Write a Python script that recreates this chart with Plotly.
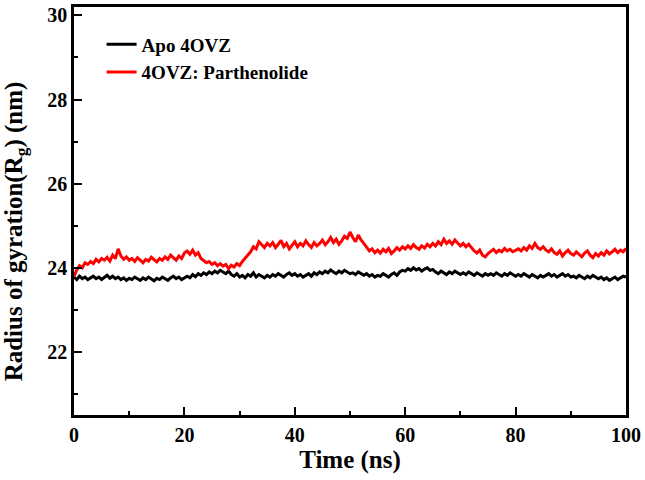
import plotly.graph_objects as go

time_ns = [i * 0.5 for i in range(201)]

apo_rg = [
    23.78, 23.72, 23.80, 23.74, 23.78, 23.72, 23.76, 23.80, 23.74, 23.78, 23.72,
    23.76, 23.82, 23.75, 23.80, 23.74, 23.78, 23.72, 23.76, 23.70, 23.75,
    23.72, 23.78, 23.74, 23.70, 23.76, 23.72, 23.78, 23.73, 23.69, 23.75,
    23.72, 23.78, 23.74, 23.70, 23.76, 23.80, 23.74, 23.78, 23.72, 23.76,
    23.80, 23.76, 23.84, 23.79, 23.86, 23.82, 23.88, 23.84, 23.90, 23.86,
    23.92, 23.88, 23.94, 23.90, 23.86, 23.92, 23.84, 23.80, 23.86, 23.78,
    23.82, 23.76, 23.84, 23.80, 23.88, 23.78, 23.84, 23.80, 23.76, 23.82,
    23.78, 23.84, 23.80, 23.86, 23.82, 23.78, 23.84, 23.88, 23.82, 23.86,
    23.80, 23.84, 23.78, 23.82, 23.86, 23.80, 23.88, 23.84, 23.90, 23.86,
    23.92, 23.88, 23.95, 23.90, 23.86, 23.92, 23.88, 23.94, 23.90, 23.86,
    23.88, 23.84, 23.90, 23.86, 23.82, 23.86, 23.80, 23.84, 23.78, 23.82,
    23.80, 23.86, 23.82, 23.78, 23.84, 23.88, 23.82, 23.90, 23.94, 23.92,
    23.98, 23.94, 24.00, 23.95, 23.98, 23.92, 23.97, 24.00, 23.94, 23.96,
    23.90, 23.86, 23.92, 23.88, 23.84, 23.90, 23.86, 23.92, 23.88, 23.84,
    23.88, 23.84, 23.90, 23.86, 23.82, 23.88, 23.84, 23.80, 23.86, 23.82,
    23.86, 23.82, 23.88, 23.84, 23.80, 23.86, 23.82, 23.88, 23.84, 23.80,
    23.84, 23.80, 23.86, 23.82, 23.78, 23.84, 23.80, 23.76, 23.82, 23.78,
    23.82, 23.86, 23.80, 23.84, 23.78, 23.82, 23.86, 23.80, 23.84, 23.78,
    23.80, 23.76, 23.82, 23.78, 23.74, 23.80, 23.76, 23.82, 23.78, 23.74,
    23.78, 23.72, 23.76, 23.70, 23.74, 23.78, 23.72, 23.76, 23.80, 23.78,
]

complex_rg = [
    23.80, 23.95, 24.05, 24.00, 24.12, 24.08, 24.15, 24.10, 24.20, 24.14, 24.22,
    24.18, 24.25, 24.16, 24.30, 24.22, 24.45, 24.28, 24.20, 24.26, 24.18,
    24.22, 24.15, 24.24, 24.18, 24.12, 24.20, 24.16, 24.25, 24.19, 24.14,
    24.22, 24.18, 24.26, 24.20, 24.30, 24.24, 24.18, 24.28, 24.22, 24.35,
    24.40, 24.32, 24.42, 24.30, 24.36, 24.22, 24.18, 24.12, 24.15, 24.08,
    24.12, 24.05, 24.10, 24.04, 24.08, 23.98, 24.06, 24.02, 24.10, 24.05,
    24.15, 24.22, 24.30, 24.38, 24.50, 24.45, 24.62, 24.55, 24.48, 24.58,
    24.52, 24.60, 24.48, 24.56, 24.65, 24.50, 24.58, 24.45, 24.55, 24.62,
    24.50, 24.58, 24.52, 24.64, 24.55, 24.48, 24.60, 24.52, 24.58, 24.66,
    24.55, 24.62, 24.72, 24.60, 24.68, 24.56, 24.64, 24.75, 24.70, 24.85,
    24.72, 24.62, 24.78, 24.66, 24.58, 24.48, 24.40, 24.45, 24.36, 24.42,
    24.35, 24.44, 24.38, 24.46, 24.34, 24.40, 24.48, 24.42, 24.50, 24.45,
    24.52, 24.46, 24.55, 24.48, 24.44, 24.52, 24.47, 24.56, 24.50, 24.58,
    24.52, 24.62, 24.55, 24.68, 24.58, 24.64, 24.56, 24.66, 24.60, 24.52,
    24.58, 24.50, 24.56, 24.48, 24.40, 24.35, 24.42, 24.30, 24.26, 24.34,
    24.38, 24.44, 24.36, 24.42, 24.38, 24.46, 24.40, 24.44, 24.38, 24.42,
    24.45, 24.40, 24.48, 24.42, 24.52, 24.46, 24.58, 24.48, 24.44, 24.50,
    24.42, 24.38, 24.45, 24.36, 24.32, 24.40, 24.28, 24.36, 24.42, 24.34,
    24.30, 24.38, 24.32, 24.26, 24.35, 24.40, 24.30, 24.24, 24.34, 24.28,
    24.36, 24.30, 24.40, 24.33, 24.38, 24.44, 24.36, 24.42, 24.38, 24.46,
]

x_ticks = [0, 20, 40, 60, 80, 100]
y_ticks = [22, 24, 26, 28, 30]

FONT = "Liberation Serif, Times New Roman, serif"

fig = go.Figure()
fig.add_trace(go.Scatter(x=time_ns, y=apo_rg, mode="lines", name="Apo 4OVZ",
                         line=dict(color="black", width=3)))
fig.add_trace(go.Scatter(x=time_ns, y=complex_rg, mode="lines", name="4OVZ: Parthenolide",
                         line=dict(color="#ff0000", width=3)))

axis_common = dict(
    showline=True, linecolor="black", linewidth=2.5, mirror=True,
    ticks="inside", ticklen=8, tickwidth=2, tickcolor="black",
    showgrid=False, zeroline=False, ticklabeloverflow="allow",
    tickfont=dict(family=FONT, size=20, color="black", weight="bold"),
)

fig.update_xaxes(
    range=[0, 100], tickvals=x_ticks,
    minor=dict(ticks="inside", ticklen=4, tickwidth=2, tickcolor="black", dtick=10, tick0=0),
    title=dict(text="Time (ns)", font=dict(family=FONT, size=25, color="black", weight="bold"), standoff=4),
    **axis_common,
)
fig.update_yaxes(
    range=[20.5, 30.2], tickvals=y_ticks,
    minor=dict(ticks="inside", ticklen=4, tickwidth=2, tickcolor="black", dtick=1, tick0=21),
    **axis_common,
)

fig.add_annotation(
    text="Radius of gyration(R<sub>g</sub>) (nm)",
    xref="paper", yref="paper", x=-0.107, y=0.45,
    xanchor="center", yanchor="middle", textangle=-90, showarrow=False,
    font=dict(family=FONT, size=25, color="black", weight="bold"),
)

fig.update_layout(
    width=645, height=480,
    margin=dict(l=74, r=16, t=4, b=65),
    paper_bgcolor="white", plot_bgcolor="white",
    showlegend=True,
    legend=dict(x=0.05, y=0.955, xanchor="left", yanchor="top",
                bgcolor="rgba(0,0,0,0)", borderwidth=0, tracegroupgap=0,
                font=dict(family=FONT, size=19, color="black", weight="bold")),
)

fig.write_html("out.html",
               config={"displayModeBar": False},
               post_script="document.body.style.margin='0';document.body.style.overflow='hidden';")
